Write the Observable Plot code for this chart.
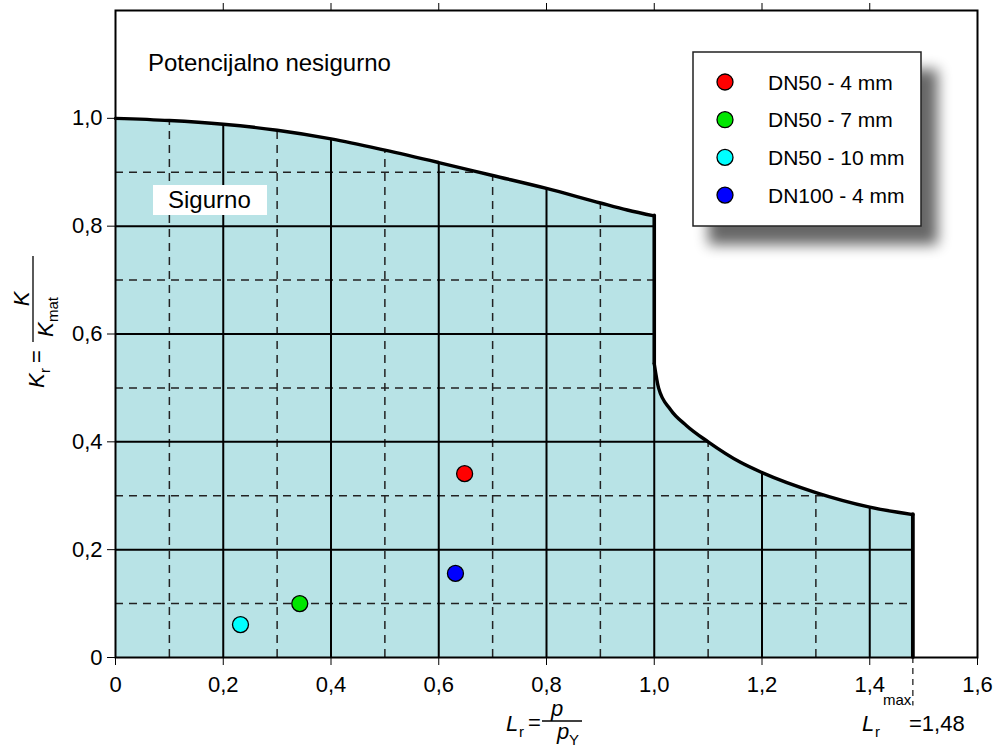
<!DOCTYPE html>
<html>
<head>
<meta charset="utf-8">
<script src="https://cdn.jsdelivr.net/npm/d3@7"></script>
<script src="https://cdn.jsdelivr.net/npm/@observablehq/plot@0.6"></script>
<style>
  html, body { margin: 0; padding: 0; background: #fff; }
  #chart { width: 997px; height: 747px; position: relative; }
</style>
</head>
<body>
<div id="chart"></div>
<script>
// ---- Data ----
// Failure assessment curve, upper branch (Lr <= 1.0)
const lrUpper = [0, 0.1, 0.2, 0.3, 0.4, 0.5, 0.6, 0.7, 0.8, 0.9, 0.95, 1.0];
const krUpper = [1.0, 0.996, 0.989, 0.978, 0.962, 0.941, 0.918, 0.894, 0.870, 0.843, 0.830, 0.819];
// lower branch (1.0 <= Lr <= Lr_max)
const lrLower = [1.0, 1.008, 1.03, 1.06, 1.1, 1.16, 1.2, 1.3, 1.4, 1.48];
const krLower = [0.545, 0.5, 0.46, 0.43, 0.40, 0.362, 0.343, 0.306, 0.279, 0.265];
const lrMax = 1.48;

// Assessed points
const seriesNames = ["DN50 - 4 mm", "DN50 - 7 mm", "DN50 - 10 mm", "DN100 - 4 mm"];
const seriesColors = ["#ff0000", "#00e600", "#00ffff", "#0000ff"];
const pointLr = [0.648, 0.342, 0.232, 0.631];
const pointKr = [0.341, 0.100, 0.061, 0.156];

// Ticks & grid
const xTicks = [0, 0.2, 0.4, 0.6, 0.8, 1.0, 1.2, 1.4, 1.6];
const xTickLabels = ["0", "0,2", "0,4", "0,6", "0,8", "1,0", "1,2", "1,4", "1,6"];
const yTicks = [0, 0.2, 0.4, 0.6, 0.8, 1.0];
const yTickLabels = ["0", "0,2", "0,4", "0,6", "0,8", "1,0"];
const majorLr = [0.2, 0.4, 0.6, 0.8, 1.0, 1.2, 1.4];
const minorLr = [0.1, 0.3, 0.5, 0.7, 0.9, 1.1, 1.3];
const majorKr = [0.2, 0.4, 0.6, 0.8];
const minorKr = [0.1, 0.3, 0.5, 0.7, 0.9];

const regionUnsafe = "Potencijalno nesigurno";
const regionSafe = "Sigurno";

const FILL = "#b8e3e6";
const FONT = "'Liberation Sans', Arial, sans-serif";

const upper = lrUpper.map((x, i) => ({x, y: krUpper[i]}));
const lower = lrLower.map((x, i) => ({x, y: krLower[i]}));
const points = seriesNames.map((name, i) => ({name, x: pointLr[i], y: pointKr[i], color: seriesColors[i]}));
const xLab = new Map(xTicks.map((t, i) => [t, xTickLabels[i]]));
const yLab = new Map(yTicks.map((t, i) => [t, yTickLabels[i]]));

const plot = Plot.plot({
  width: 997,
  height: 747,
  marginLeft: 115,
  marginRight: 20,
  marginTop: 10,
  marginBottom: 90,
  x: {domain: [0, 1.6]},
  y: {domain: [0, 1.2]},
  style: {fontFamily: FONT, fontSize: "22px", background: "white", color: "black", overflow: "visible"},
  marks: [
    Plot.areaY(upper, {x: "x", y: "y", fill: FILL, curve: "monotone-x", ariaDescription: "safe"}),
    Plot.areaY(lower, {x: "x", y: "y", fill: FILL, curve: "monotone-x", ariaDescription: "safe"}),
    Plot.ruleX(minorLr, {y1: 0, y2: 1.2, stroke: "#222", strokeWidth: 1.5, strokeDasharray: "8,6", ariaDescription: "grid"}),
    Plot.ruleY(minorKr, {x1: 0, x2: 1.6, stroke: "#222", strokeWidth: 1.5, strokeDasharray: "8,6", ariaDescription: "grid"}),
    Plot.ruleX(majorLr, {y1: 0, y2: 1.2, stroke: "black", strokeWidth: 2, ariaDescription: "grid"}),
    Plot.ruleY(majorKr, {x1: 0, x2: 1.6, stroke: "black", strokeWidth: 2, ariaDescription: "grid"}),
    Plot.line(upper, {x: "x", y: "y", stroke: "black", strokeWidth: 3.4, curve: "monotone-x", strokeLinecap: "round"}),
    Plot.line(lower, {x: "x", y: "y", stroke: "black", strokeWidth: 3.4, curve: "monotone-x", strokeLinecap: "round"}),
    Plot.ruleX([lrUpper[lrUpper.length - 1]], {y1: krUpper[krUpper.length - 1], y2: krLower[0], stroke: "black", strokeWidth: 3.6, strokeLinecap: "round"}),
    Plot.ruleX([lrMax], {y1: 0, y2: krLower[krLower.length - 1], stroke: "black", strokeWidth: 3.8, strokeLinecap: "round"}),
    Plot.ruleX([lrMax], {y1: 0, y2: -0.09, stroke: "#222", strokeWidth: 1.3, strokeDasharray: "6,5"}),
    Plot.dot(points, {x: "x", y: "y", fill: "color", r: 8, stroke: "black", strokeWidth: 1.3}),
    Plot.frame({stroke: "black", strokeWidth: 2}),
    Plot.axisX({ticks: xTicks, tickFormat: d => xLab.get(d), tickSize: 8, tickPadding: 11, tickWidth: 2, stroke: "black", fontSize: 22, label: null}),
    Plot.axisX({anchor: "top", ticks: majorLr, tickFormat: () => "", tickSize: 8, tickWidth: 2, stroke: "black", label: null}),
    Plot.axisY({ticks: yTicks, tickFormat: d => yLab.get(d), tickSize: 8, tickPadding: 5, tickWidth: 2, stroke: "black", fontSize: 22, label: null})
  ]
});

document.getElementById("chart").appendChild(plot);

// ---- Clip the grid to the safe region (copy the area paths into a clipPath) ----
const svg = d3.select(plot);
const defs = svg.insert("defs", ":first-child");
const clip = defs.append("clipPath").attr("id", "safeClip");
plot.querySelectorAll('[aria-description="safe"] path').forEach(p => {
  clip.append("path").attr("d", p.getAttribute("d"));
});
plot.querySelectorAll('[aria-description="grid"]').forEach(g => g.setAttribute("clip-path", "url(#safeClip)"));

// Shadow filter for legend
const f = defs.append("filter").attr("id", "shadow").attr("x", "-20%").attr("y", "-20%").attr("width", "160%").attr("height", "160%");
f.append("feGaussianBlur").attr("in", "SourceAlpha").attr("stdDeviation", 7).attr("result", "b");
f.append("feOffset").attr("in", "b").attr("dx", 16).attr("dy", 18).attr("result", "o");
f.append("feComponentTransfer").attr("in", "o").attr("result", "s")
  .append("feFuncA").attr("type", "linear").attr("slope", 0.6);
const fm = f.append("feMerge");
fm.append("feMergeNode").attr("in", "s");
fm.append("feMergeNode").attr("in", "SourceGraphic");

const ann = svg.append("g").attr("font-family", FONT).attr("fill", "black").attr("text-anchor", "start");

// Region labels
ann.append("text").attr("x", 148).attr("y", 71).attr("font-size", 24).text(regionUnsafe);
ann.append("rect").attr("x", 153).attr("y", 185).attr("width", 114).attr("height", 30).attr("fill", "white");
ann.append("text").attr("x", 168).attr("y", 208).attr("font-size", 24).text(regionSafe);

// Legend
const lg = ann.append("g").attr("transform", "translate(693,52)");
lg.append("rect").attr("width", 228).attr("height", 174).attr("fill", "white")
  .attr("stroke", "#222").attr("stroke-width", 1.5).attr("filter", "url(#shadow)");
seriesNames.forEach((name, i) => {
  const cy = 30 + i * 37.7;
  lg.append("circle").attr("cx", 32).attr("cy", cy).attr("r", 8).attr("fill", seriesColors[i])
    .attr("stroke", "black").attr("stroke-width", 1.3);
  lg.append("text").attr("x", 75).attr("y", cy + 7.5).attr("font-size", 21).text(name);
});

// X axis label: L_r = p / p_Y
const xl = ann.append("g");
xl.append("text").attr("x", 506).attr("y", 731).attr("font-size", 22).attr("font-style", "italic").text("L");
xl.append("text").attr("x", 519).attr("y", 737).attr("font-size", 15).text("r");
xl.append("text").attr("x", 528).attr("y", 730).attr("font-size", 22).text("=");
xl.append("line").attr("x1", 542).attr("x2", 582).attr("y1", 721).attr("y2", 721).attr("stroke", "black").attr("stroke-width", 1.3);
xl.append("text").attr("x", 557).attr("y", 716).attr("font-size", 22).attr("font-style", "italic").attr("text-anchor", "middle").text("p");
xl.append("text").attr("x", 557).attr("y", 739).attr("font-size", 22).attr("font-style", "italic").text("p");
xl.append("text").attr("x", 569).attr("y", 745).attr("font-size", 15).text("Y");

// Lr max label
const ml = ann.append("g");
ml.append("text").attr("x", 862).attr("y", 731).attr("font-size", 22).attr("font-style", "italic").text("L");
ml.append("text").attr("x", 875).attr("y", 737).attr("font-size", 15).text("r");
ml.append("text").attr("x", 883).attr("y", 705).attr("font-size", 15).text("max");
ml.append("text").attr("x", 909).attr("y", 731).attr("font-size", 22).text("=1,48");

// Y axis label: K_r = K / K_mat (rotated)
const yl = ann.append("g").attr("transform", "translate(44,322) rotate(-90)");
yl.append("text").attr("x", -66).attr("y", 0).attr("font-size", 22).attr("font-style", "italic").text("K");
yl.append("text").attr("x", -51).attr("y", 6).attr("font-size", 15).text("r");
yl.append("text").attr("x", -41).attr("y", 0).attr("font-size", 22).text("=");
yl.append("line").attr("x1", -20).attr("x2", 66).attr("y1", -11).attr("y2", -11).attr("stroke", "black").attr("stroke-width", 1.3);
yl.append("text").attr("x", 23).attr("y", -15).attr("font-size", 22).attr("font-style", "italic").attr("text-anchor", "middle").text("K");
yl.append("text").attr("x", -15).attr("y", 9).attr("font-size", 22).attr("font-style", "italic").text("K");
yl.append("text").attr("x", 0).attr("y", 14).attr("font-size", 15).text("mat");
</script>
</body>
</html>
